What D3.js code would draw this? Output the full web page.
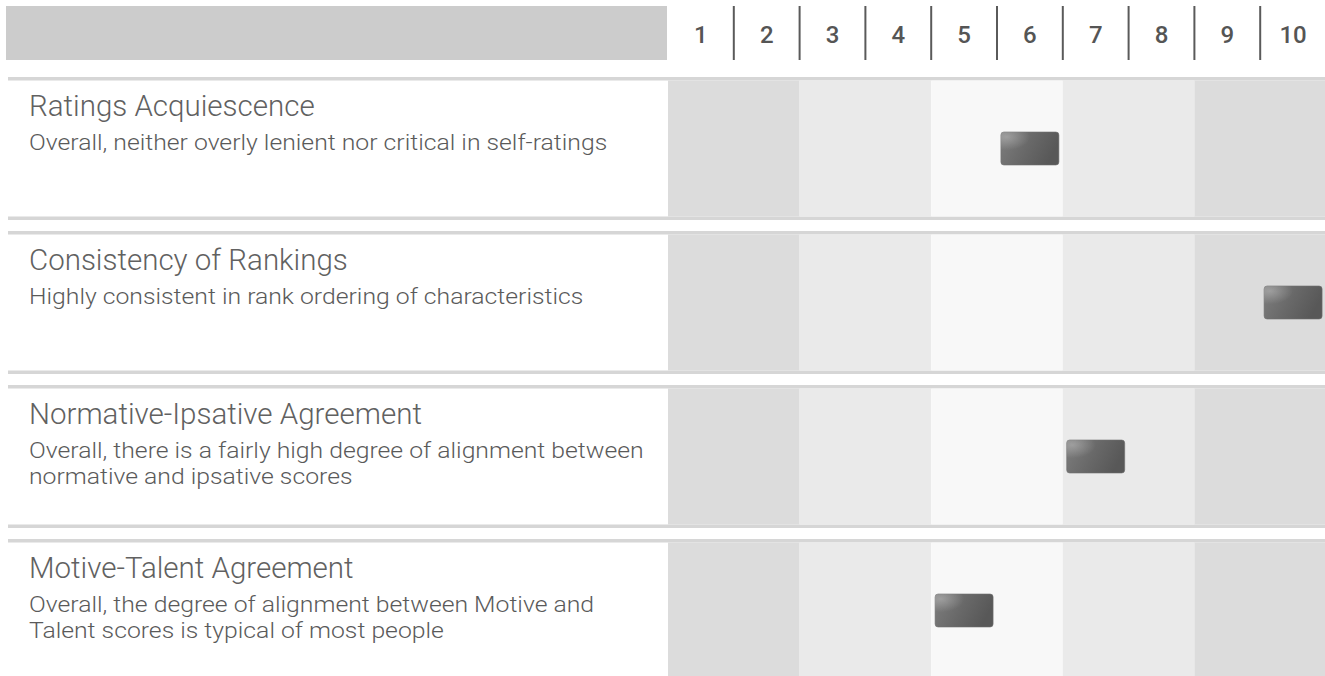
<!DOCTYPE html>
<html>
<head>
<meta charset="utf-8">
<script src="https://cdn.jsdelivr.net/npm/d3@7"></script>
<style>
  html, body { margin: 0; padding: 0; background: #fff; }
  svg { display: block; }
  .num { font-family: Roboto, "DejaVu Sans", sans-serif; font-weight: 500; fill: #555; }
  .title { font-family: Roboto, sans-serif; font-weight: 300; fill: #616161; }
  .desc { font-family: Roboto, sans-serif; font-weight: 300; fill: #5a5a5a; }
</style>
</head>
<body>
<svg id="chart" width="1325" height="676"></svg>
<script>
// scale ticks shown across the top
const ticks = [1, 2, 3, 4, 5, 6, 7, 8, 9, 10];

// one entry per row
const titles = [
    "Ratings Acquiescence",
    "Consistency of Rankings",
    "Normative-Ipsative Agreement",
    "Motive-Talent Agreement"
];
const descriptions = [
    ["Overall, neither overly lenient nor critical in self-ratings"],
    ["Highly consistent in rank ordering of characteristics"],
    ["Overall, there is a fairly high degree of alignment between", "normative and ipsative scores"],
    ["Overall, the degree of alignment between Motive and", "Talent scores is typical of most people"]
];
const scores = [6, 10, 7, 5];

// shading of the column pairs, left to right
const bandFills = ["#dcdcdc", "#eaeaea", "#f8f8f8", "#eaeaea", "#dcdcdc"];

const W = 1325, H = 676;
const svg = d3.select("#chart");

const x = d3.scaleLinear()
    .domain([d3.min(ticks) - 0.5, d3.max(ticks) + 0.5])
    .range([668, 1326]);
const colW = x(2) - x(1);

const rowY = d3.scaleBand()
    .domain(titles)
    .range([77, 77 + titles.length * 154]);

const lineH = 3.5, gap = 11;

// marker gradients
const defs = svg.append("defs");
const lg = defs.append("linearGradient").attr("id", "mk").attr("x1", 0).attr("x2", 1).attr("y1", 0).attr("y2", 0.3);
lg.append("stop").attr("offset", "0%").attr("stop-color", "#7e7e7e");
lg.append("stop").attr("offset", "55%").attr("stop-color", "#686868");
lg.append("stop").attr("offset", "100%").attr("stop-color", "#585858");
const rg = defs.append("radialGradient").attr("id", "hl").attr("cx", 0.1).attr("cy", 0.15).attr("r", 0.4);
rg.append("stop").attr("offset", "0%").attr("stop-color", "#fff").attr("stop-opacity", 0.28);
rg.append("stop").attr("offset", "100%").attr("stop-color", "#fff").attr("stop-opacity", 0);

// header
svg.append("rect")
    .attr("x", 6).attr("y", 6)
    .attr("width", x.range()[0] - 7).attr("height", 54)
    .attr("fill", "#cccccc");

svg.append("g").selectAll("text")
    .data(ticks)
    .join("text")
    .attr("class", "num")
    .attr("x", d => x(d))
    .attr("y", 43)
    .attr("text-anchor", "middle")
    .attr("font-size", 24)
    .text(d => d);

svg.append("g").selectAll("line")
    .data(ticks.slice(1))
    .join("line")
    .attr("x1", d => x(d - 0.5)).attr("x2", d => x(d - 0.5))
    .attr("y1", 6).attr("y2", 60)
    .attr("stroke", "#5a5a5a")
    .attr("stroke-width", 2);

// rows
const rows = svg.append("g").selectAll("g")
    .data(titles.map((t, i) => ({title: t, desc: descriptions[i], score: scores[i]})))
    .join("g")
    .attr("transform", d => `translate(0,${rowY(d.title)})`);

const contentH = rowY.bandwidth() - 2 * lineH - gap;

rows.append("rect")
    .attr("x", 8).attr("y", 0)
    .attr("width", W - 8).attr("height", lineH)
    .attr("fill", "#d6d6d6");
rows.append("rect")
    .attr("x", 8).attr("y", lineH + contentH)
    .attr("width", W - 8).attr("height", lineH)
    .attr("fill", "#d6d6d6");

rows.each(function (d) {
    const g = d3.select(this);
    g.selectAll(".band")
        .data(bandFills)
        .join("rect")
        .attr("class", "band")
        .attr("x", (f, k) => x(ticks[2 * k] - 0.5))
        .attr("width", colW * 2)
        .attr("y", lineH)
        .attr("height", contentH)
        .attr("fill", f => f);
});

rows.append("text")
    .attr("class", "title")
    .attr("x", 29)
    .attr("y", lineH + 35)
    .attr("font-size", 29.5)
    .text(d => d.title);

// description lines, slightly widened to match the original face
rows.append("text")
    .attr("class", "desc")
    .attr("font-size", 22.5)
    .attr("transform", `translate(29,${lineH + 69.5}) scale(1.1,1)`)
    .selectAll("tspan")
    .data(d => d.desc)
    .join("tspan")
    .attr("x", 0)
    .attr("y", (l, i) => i * 26.5)
    .text(l => l);

// score markers
const mW = 58, mH = 33;
rows.append("rect")
    .attr("x", d => x(d.score) - mW / 2)
    .attr("y", lineH + contentH / 2 - mH / 2)
    .attr("width", mW).attr("height", mH)
    .attr("rx", 3)
    .attr("fill", "url(#mk)")
    .attr("stroke", "#6e6e6e")
    .attr("stroke-width", 0.6);
rows.append("rect")
    .attr("x", d => x(d.score) - mW / 2)
    .attr("y", lineH + contentH / 2 - mH / 2)
    .attr("width", mW).attr("height", mH)
    .attr("rx", 3)
    .attr("fill", "url(#hl)");
</script>
</body>
</html>
